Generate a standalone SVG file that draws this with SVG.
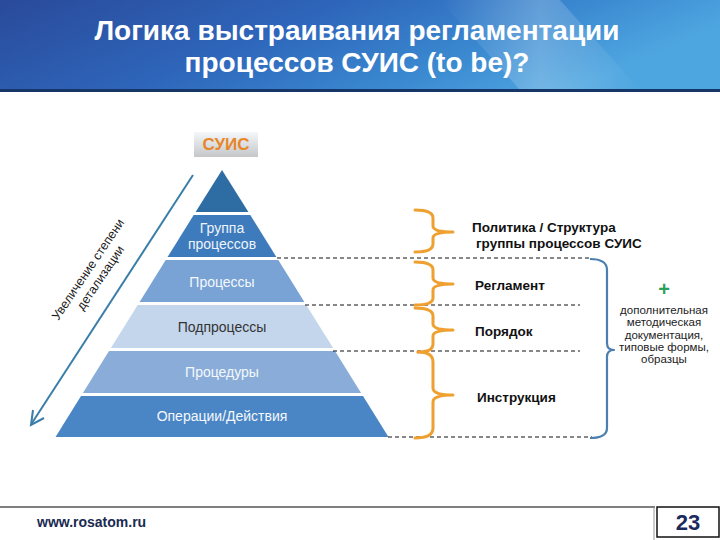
<svg xmlns="http://www.w3.org/2000/svg" width="720" height="540" viewBox="0 0 720 540">
<defs>
  <linearGradient id="hdr" x1="0" y1="0" x2="1" y2="0.3">
    <stop offset="0" stop-color="#2a4a9a"/>
    <stop offset="0.45" stop-color="#2e66bb"/>
    <stop offset="0.75" stop-color="#3a88d0"/>
    <stop offset="1" stop-color="#4ea6e0"/>
  </linearGradient>
  <linearGradient id="sheen" x1="0" y1="0" x2="1" y2="0">
    <stop offset="0" stop-color="#ffffff" stop-opacity="0"/>
    <stop offset="0.5" stop-color="#ffffff" stop-opacity="0.22"/>
    <stop offset="1" stop-color="#ffffff" stop-opacity="0"/>
  </linearGradient>
  <linearGradient id="suis" x1="0" y1="0" x2="0" y2="1">
    <stop offset="0" stop-color="#f4f8fa"/>
    <stop offset="1" stop-color="#c4c6c8"/>
  </linearGradient>
  <style>
    .title{font-family:"Liberation Sans",Arial,sans-serif;font-weight:bold;font-size:28px;fill:#ffffff;text-anchor:middle}
    .pyr{font-family:"Liberation Sans",Arial,sans-serif;font-size:14px;text-anchor:middle}
    .lbl{font-family:"Liberation Sans",Arial,sans-serif;font-weight:bold;font-size:13.5px;fill:#111111}
    .note{font-family:"Liberation Sans",Arial,sans-serif;font-size:11.5px;fill:#222222;text-anchor:middle}
    .rot{font-family:"Liberation Sans",Arial,sans-serif;font-size:12.5px;fill:#1a1a1a;text-anchor:middle}
    .dash{stroke:#111111;stroke-width:1;stroke-dasharray:4 3;fill:none}
    .brace{stroke:#eea030;stroke-width:3;fill:none;stroke-linejoin:round;stroke-linecap:round}
    .bbrace{stroke:#4a7fb0;stroke-width:2.2;fill:none;stroke-linejoin:round}
  </style>
</defs>

<rect x="0" y="0" width="720" height="540" fill="#ffffff"/>

<g id="header">
  <rect x="0" y="0" width="720" height="90" fill="url(#hdr)"/>
  <polygon points="440,0 560,0 640,90 520,90" fill="url(#sheen)"/>
  <rect x="0" y="89" width="720" height="3" fill="#163668"/>
  <text class="title" x="357" y="40">Логика выстраивания регламентации</text>
  <text class="title" x="357" y="72">процессов СУИС (to be)?</text>
</g>

<g id="suis-label">
  <rect x="194" y="132" width="64" height="25" fill="url(#suis)"/>
  <text x="226" y="150" font-family="Liberation Sans, Arial, sans-serif" font-weight="bold" font-size="17" fill="#e8862a" text-anchor="middle">СУИС</text>
</g>

<g id="pyramid">
  <g id="level-top">
    <polygon points="222,170 248.4,212 195.6,212" fill="#2e6ca4"/>
  </g>
  <g id="level-group">
    <polygon points="193.7,215 250.3,215 276.4,257 167.6,257" fill="#3d7bbd"/>
    <text class="pyr" x="222" y="233" fill="#eef4fa" font-size="13.5">Группа</text>
    <text class="pyr" x="222" y="249" fill="#eef4fa" font-size="13.5">процессов</text>
  </g>
  <g id="level-processes">
    <polygon points="165.7,260 278.3,260 304.4,302 139.6,302" fill="#78a3d4"/>
    <text class="pyr" x="222" y="287" fill="#f4f8fc">Процессы</text>
  </g>
  <g id="level-subprocesses">
    <polygon points="137.7,305 306.3,305 333.1,348 110.9,348" fill="#c4d6ec"/>
    <text class="pyr" x="222" y="332" fill="#333333">Подпроцессы</text>
  </g>
  <g id="level-procedures">
    <polygon points="109,351 335,351 361.1,393 82.9,393" fill="#89add8"/>
    <text class="pyr" x="222" y="377" fill="#f4f8fc">Процедуры</text>
  </g>
  <g id="level-operations">
    <polygon points="81,396 363,396 388.5,437 55.5,437" fill="#4a86c6"/>
    <text class="pyr" x="222" y="421" fill="#f4f8fc">Операции/Действия</text>
  </g>
</g>

<g id="detail-arrow">
  <line x1="195" y1="176" x2="34" y2="423" stroke="#ffffff" stroke-width="4"/>
  <line x1="193" y1="175" x2="32" y2="423" stroke="#3a7ea8" stroke-width="2"/>
  <polyline points="33,410 31,425 44,418" fill="none" stroke="#3a7ea8" stroke-width="2"/>
  <g transform="translate(89,270) rotate(-56)">
    <text class="rot" x="0" y="3">Увеличение степени</text>
    <text class="rot" x="0" y="18">детализации</text>
  </g>
</g>

<g id="connectors">
  <line class="dash" x1="277" y1="258" x2="592" y2="258"/>
  <line class="dash" x1="305" y1="305" x2="580" y2="305"/>
  <line class="dash" x1="333" y1="351" x2="580" y2="351"/>
  <line class="dash" x1="388" y1="437" x2="592" y2="437"/>
  <path class="brace" d="M415,210 Q433,210 433,218 L433,226 Q433,232 453,232 Q433,232 433,238 L433,244 Q433,252 415,252"/>
  <path class="brace" d="M415,262 Q433,262 433,270 L433,278 Q433,284 453,284 Q433,284 433,290 L433,298 Q433,305 415,305"/>
  <path class="brace" d="M415,308 Q433,308 433,316 L433,324 Q433,330 453,330 Q433,330 433,336 L433,344 Q433,352 418,352"/>
  <path class="brace" d="M418,352 Q433,352 433,362 L433,388 Q433,395 453,395 Q433,395 433,402 L433,428 Q433,438 415,438"/>
  <path class="bbrace" d="M590,259 Q607,259 607,270 L607,343 Q607,350 614,350 Q607,350 607,357 L607,428 Q607,438 590,438"/>
</g>

<g id="label-policy">
  <text class="lbl" x="472" y="232">Политика / Структура</text>
  <text class="lbl" x="476" y="248">группы процессов СУИС</text>
</g>
<g id="label-reglament">
  <text class="lbl" x="475" y="290">Регламент</text>
</g>
<g id="label-poryadok">
  <text class="lbl" x="475" y="336">Порядок</text>
</g>
<g id="label-instr">
  <text class="lbl" x="477" y="402">Инструкция</text>
</g>

<g id="note">
  <text x="664" y="296" font-family="Liberation Sans, Arial, sans-serif" font-weight="bold" font-size="20" fill="#2ca05a" text-anchor="middle">+</text>
  <text class="note" x="664" y="314">дополнительная</text>
  <text class="note" x="664" y="326">методическая</text>
  <text class="note" x="664" y="339">документация,</text>
  <text class="note" x="664" y="351">типовые формы,</text>
  <text class="note" x="664" y="363">образцы</text>
</g>

<g id="footer">
  <line x1="0" y1="507" x2="655" y2="507" stroke="#555555" stroke-width="1.5"/>
  <line x1="654" y1="507" x2="654" y2="540" stroke="#999999" stroke-width="1"/>
  <rect x="657" y="507" width="62" height="30" fill="#ffffff" stroke="#111111" stroke-width="1.5"/>
  <text x="688" y="530" font-family="Liberation Sans, Arial, sans-serif" font-weight="bold" font-size="22" fill="#1a2a5e" text-anchor="middle">23</text>
  <text x="37" y="527" font-family="Liberation Sans, Arial, sans-serif" font-weight="bold" font-size="14" fill="#1a2a50">www.rosatom.ru</text>
</g>
</svg>
